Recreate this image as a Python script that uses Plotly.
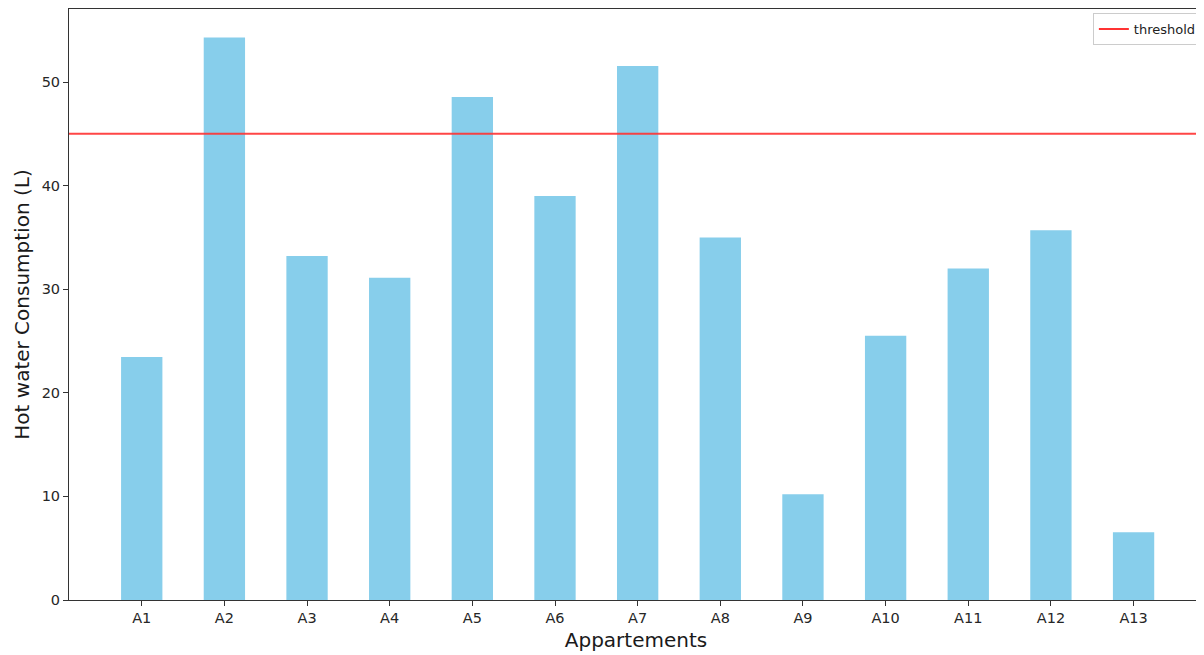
import plotly.graph_objects as go

apartments = ["A1", "A2", "A3", "A4", "A5", "A6", "A7", "A8", "A9", "A10", "A11", "A12", "A13"]
consumption = [23.45, 54.3, 33.2, 31.1, 48.55, 39.0, 51.55, 35.0, 10.2, 25.5, 32.0, 35.7, 6.55]
threshold = 45

fig = go.Figure()
fig.add_trace(go.Bar(x=list(range(len(apartments))), y=consumption, width=0.5,
                     marker=dict(color="#87ceeb", line=dict(width=0)), showlegend=False))
fig.add_trace(go.Scatter(x=[None], y=[None], mode="lines", name="threshold",
                         line=dict(color="#ff3333", width=2), showlegend=True))
fig.add_shape(type="line", xref="paper", x0=0, x1=1, yref="y", y0=threshold, y1=threshold,
              line=dict(color="#ff3333", width=2), opacity=0.9)

axis_common = dict(showline=True, linecolor="#333333", linewidth=1,
                   ticks="outside", ticklen=5, tickcolor="#333333", showgrid=False, zeroline=False,
                   tickfont=dict(family="DejaVu Sans", size=14.5, color="#262626"))
fig.update_layout(
    width=1196, height=647,
    margin=dict(l=61, r=1, t=1, b=55),
    paper_bgcolor="white", plot_bgcolor="white",
    font=dict(family="DejaVu Sans", color="#222222"),
    xaxis=dict(axis_common, mirror=True, tickmode="array", tickvals=list(range(len(apartments))),
               ticktext=apartments, range=[-0.88, 12.84],
               title=dict(text="Appartements", font=dict(size=20, color="#1a1a1a"), standoff=7)),
    yaxis=dict(axis_common, mirror=False, range=[0, 57.05], tickvals=[0, 10, 20, 30, 40, 50],
               title=dict(text="Hot water Consumption (L)", font=dict(size=20, color="#1a1a1a"), standoff=6)),
    legend=dict(x=0.999, y=0.993, xanchor="right", yanchor="top", bgcolor="white",
                bordercolor="#cccccc", borderwidth=1, font=dict(size=13, color="#222222"),
                itemwidth=30, tracegroupgap=0),
)
fig.write_html("out.html")
